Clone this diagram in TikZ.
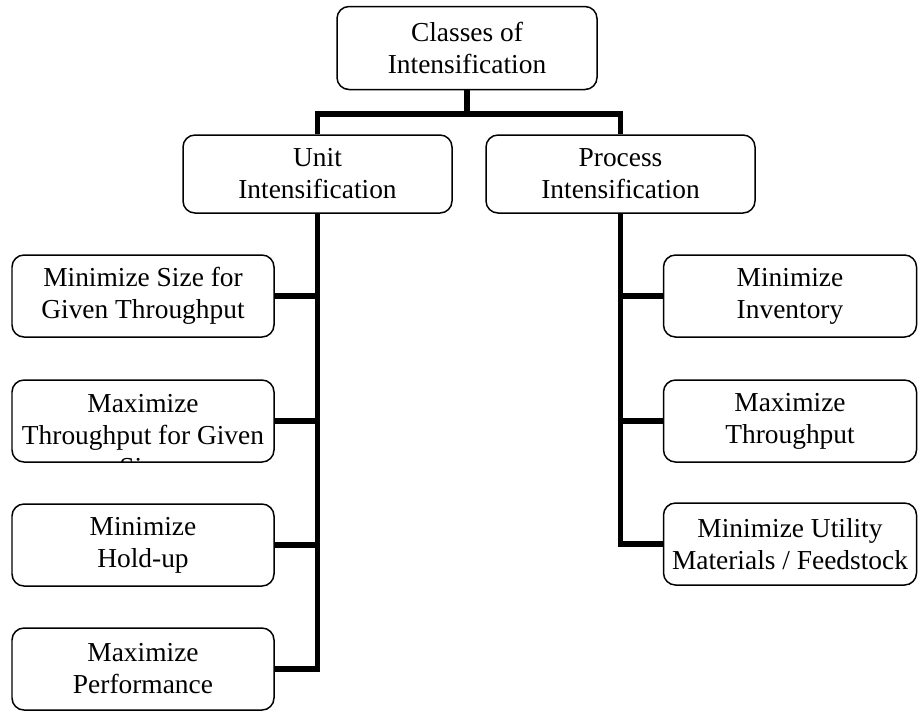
\documentclass[tikz,border=0pt]{standalone}
\usepackage{fontspec}
\setmainfont{Liberation Serif}
\usepackage{xcolor}
\usepackage{tikz}

\begin{document}
\begin{tikzpicture}[
        box/.style={draw, line width=0.85pt, rounded corners=0.24cm, inner sep=0pt,
            align=center, font=\fontsize{15.6}{18.2}\selectfont},
        txt/.style={inner sep=0pt, align=center, font=\fontsize{15.6}{18.2}\selectfont},
        link/.style={line width=2.9pt, line join=miter}
    ]
        \useasboundingbox (0, 0) rectangle (18.4, -14.22);

        % top and the two classes
        \node[box, minimum width=5.2cm, minimum height=1.66cm] (cls) at (9.34, -0.96)
            {Classes of\\Intensification};
        \node[box, minimum width=5.38cm, minimum height=1.56cm] (unit) at (6.35, -3.48)
            {Unit\\Intensification};
        \node[box, minimum width=5.38cm, minimum height=1.56cm] (proc) at (12.41, -3.48)
            {Process\\Intensification};

        % unit side
        \node[box, minimum width=5.24cm, minimum height=1.64cm] (msize) at (2.86, -5.92)
            {Minimize Size for\\Given Throughput};
        \node[box, minimum width=5.24cm, minimum height=1.64cm] (mthru) at (2.86, -8.42) {};
        \begin{scope}
            \clip[rounded corners=0.24cm] (mthru.south west) rectangle (mthru.north east);
            \node[txt] at (2.86, -8.72) {Maximize\\Throughput for Given\\Size};
        \end{scope}
        \node[box, minimum width=5.24cm, minimum height=1.64cm] (mhold) at (2.86, -10.9)
            {Minimize\\Hold-up};
        \node[box, minimum width=5.24cm, minimum height=1.64cm] (mperf) at (2.86, -13.38)
            {Maximize\\Performance};

        % process side
        \node[box, minimum width=5.06cm, minimum height=1.64cm] (minv) at (15.8, -5.92)
            {Minimize\\Inventory};
        \node[box, minimum width=5.06cm, minimum height=1.64cm] (mtp) at (15.8, -8.42)
            {Maximize\\Throughput};
        \node[box, minimum width=5.06cm, minimum height=1.64cm] (mutil) at (15.8, -10.88)
            {Minimize Utility\\Materials / Feedstock};

        \coordinate (bar) at (9.34, -2.28);
        \draw[link] (cls.south) -- (bar);
        \draw[link] (unit.north) |- (bar) -| (proc.north);

        \draw[link] (unit.south) |- (mperf.east);
        \draw[link] (msize.east) -- (msize.east -| unit.south);
        \draw[link] (mthru.east) -- (mthru.east -| unit.south);
        \draw[link] (mhold.east) -- (mhold.east -| unit.south);

        \draw[link] (proc.south) |- (mutil.west);
        \draw[link] (minv.west) -- (minv.west -| proc.south);
        \draw[link] (mtp.west) -- (mtp.west -| proc.south);
    \end{tikzpicture}
\end{document}
